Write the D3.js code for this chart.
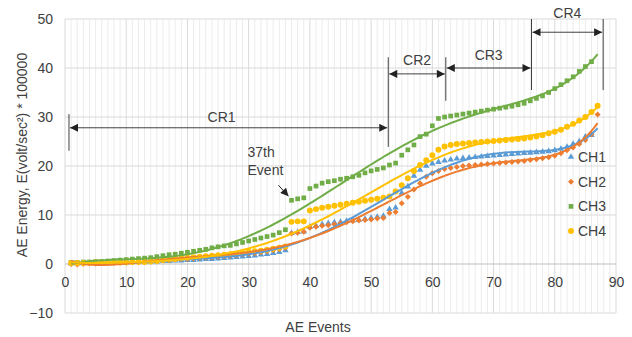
<!DOCTYPE html>
<html>
<head>
<meta charset="utf-8">
<script src="https://cdn.jsdelivr.net/npm/d3@7"></script>
<style>
  body { margin: 0; background: #fff; }
  svg { font-family: "Liberation Sans", Arial, sans-serif; }
</style>
</head>
<body>
<svg id="chart" width="632" height="337"></svg>
<script>
// AE energy per event, one value per event (event 1 onward)
const ch1 = [0.1,0.1,0.1,0.2,0.2,0.2,0.3,0.3,0.3,0.3, 0.4,0.4,0.4,0.5,0.5,0.6,0.6,0.7,0.7,0.8,
  0.8,0.9,1.0,1.0,1.1,1.2,1.3,1.4,1.5,1.6, 1.7,1.9,2.0,2.2,2.4,2.8,6.3,6.5,6.6,7.6,
  7.8,8.1,8.3,8.5,8.6,8.8,8.9,9.0,9.2,9.4, 9.6,9.8,11.2,11.5,14.5,15.8,18.0,19.2,20.0,20.5,
  20.8,21.1,21.3,21.5,21.6,21.7,21.8,21.9,22.0,22.1, 22.2,22.3,22.4,22.5,22.6,22.7,22.8,22.9,23.0,23.2,
  23.5,23.9,24.5,25.0,26.0,26.3];
const ch2 = [0.0,-0.1,0.0,0.1,0.1,0.2,0.2,0.3,0.3,0.4, 0.4,0.5,0.5,0.6,0.7,0.7,0.8,0.9,1.0,1.0,
  1.1,1.2,1.3,1.4,1.5,1.6,1.7,1.8,2.0,2.1, 2.2,2.4,2.6,2.8,3.0,3.3,6.2,6.4,6.6,7.4,
  7.6,7.8,7.9,8.1,8.3,8.5,8.7,8.9,9.0,9.1, 9.3,9.4,10.4,10.6,12.4,13.7,15.2,16.5,17.8,18.5,
  19.0,19.4,19.6,19.8,20.0,20.1,20.2,20.3,20.4,20.5, 20.6,20.7,20.8,20.9,21.0,21.2,21.4,21.6,21.8,22.1,
  22.6,23.2,23.8,24.5,25.3,26.5,30.5];
const ch3 = [0.3,0.3,0.4,0.4,0.5,0.5,0.6,0.7,0.8,0.9, 1.0,1.1,1.2,1.3,1.5,1.7,1.9,2.0,2.2,2.4,
  2.6,2.8,3.0,3.3,3.5,3.7,3.8,4.1,4.4,4.7, 5.0,5.3,5.6,5.9,6.4,7.0,13.0,13.3,13.5,15.4,
  15.9,16.5,16.8,17.0,17.3,17.5,17.8,18.1,18.6,19.0, 19.3,19.6,20.2,20.6,22.2,23.3,24.3,26.0,26.5,28.2,
  29.7,30.0,30.2,30.4,30.6,30.8,31.0,31.2,31.4,31.6, 31.8,32.0,32.2,32.5,32.8,33.3,33.8,34.3,35.0,35.8,
  36.6,37.4,38.2,39.3,40.3,41.3];
const ch4 = [0.2,0.2,0.2,0.2,0.3,0.3,0.3,0.3,0.3,0.3, 0.4,0.4,0.4,0.5,0.6,0.8,0.9,1.0,1.2,1.3,
  1.4,1.5,1.6,1.7,1.8,1.9,2.0,2.1,2.3,2.5, 2.6,2.7,2.9,3.1,3.3,3.6,8.6,8.7,8.7,10.9,
  11.2,11.5,11.7,11.9,12.1,12.3,12.5,12.7,12.9,13.1, 13.3,13.5,13.8,14.8,16.1,17.5,19.0,20.2,21.2,22.2,
  23.3,24.0,24.3,24.5,24.6,24.7,24.8,24.9,25.0,25.1, 25.2,25.3,25.4,25.5,25.6,25.8,26.0,26.3,26.7,27.0,
  27.4,28.0,28.6,29.3,30.0,31.0,32.3];

const seriesNames = ["CH1", "CH2", "CH3", "CH4"];
const seriesValues = [ch1, ch2, ch3, ch4];
const seriesColors = ["#5B9BD5", "#ED7D31", "#70AD47", "#FFC000"];

const xTicks = [0, 10, 20, 30, 40, 50, 60, 70, 80, 90];
const yTicks = [-10, 0, 10, 20, 30, 40, 50];

// crack regions, bounds in event numbers
const crBounds = [0.65, 52.8, 62.2, 76.2, 87.9];
const crLabels = ["CR1", "CR2", "CR3", "CR4"];
const markedEvent = 37;
const trendOrder = 6;

const svg = d3.select("#chart");
const textColor = "#404040";

const x = d3.scaleLinear().domain([0, 90]).range([65, 616]);
const y = d3.scaleLinear().domain([-10, 50]).range([313, 19]);

// grid
const grid = svg.append("g");
grid.selectAll(".minor").data(d3.range(1, 90).filter(d => d % 10 !== 0)).enter()
  .append("line")
  .attr("x1", d => x(d)).attr("x2", d => x(d))
  .attr("y1", y(50)).attr("y2", y(-10))
  .attr("stroke", "#ececec").attr("stroke-width", 1);
grid.selectAll(".vmajor").data(xTicks).enter()
  .append("line")
  .attr("x1", d => x(d)).attr("x2", d => x(d))
  .attr("y1", y(50)).attr("y2", y(-10))
  .attr("stroke", "#d9d9d9").attr("stroke-width", 1);
grid.selectAll(".hmajor").data(yTicks).enter()
  .append("line")
  .attr("x1", x(0)).attr("x2", x(90))
  .attr("y1", d => y(d)).attr("y2", d => y(d))
  .attr("stroke", d => d === 0 ? "#bfbfbf" : "#d9d9d9").attr("stroke-width", 1);

// axes (labels only)
const xAxis = svg.append("g")
  .attr("transform", `translate(0,${y(0)})`)
  .call(d3.axisBottom(x).tickValues(xTicks).tickSize(0).tickPadding(13));
const yAxis = svg.append("g")
  .attr("transform", `translate(${x(0)},0)`)
  .call(d3.axisLeft(y).tickValues(yTicks).tickSize(0).tickPadding(12));
[xAxis, yAxis].forEach(a => {
  a.select(".domain").remove();
  a.selectAll("text").attr("font-size", 14).attr("fill", textColor)
    .attr("font-family", "Liberation Sans, Arial, sans-serif");
});

svg.append("text")
  .attr("x", 318).attr("y", 332)
  .attr("text-anchor", "middle")
  .attr("font-size", 14).attr("fill", textColor)
  .text("AE Events");

svg.append("text")
  .attr("transform", "translate(27,155) rotate(-90)")
  .attr("text-anchor", "middle")
  .attr("font-size", 14).attr("fill", textColor)
  .text("AE Energy, E(volt/sec²) * 100000");

// markers
const shapes = [
  d3.symbol().type(d3.symbolTriangle).size(18),
  d3.symbol().type(d3.symbolSquare).size(18),
  d3.symbol().type(d3.symbolSquare).size(22),
  d3.symbol().type(d3.symbolCircle).size(28)
];
const rotations = [0, 45, 0, 0];

seriesValues.forEach((vals, i) => {
  svg.append("g").selectAll("path").data(vals).enter()
    .append("path")
    .attr("d", shapes[i])
    .attr("transform", (d, j) => `translate(${x(j + 1)},${y(d)}) rotate(${rotations[i]})`)
    .attr("fill", seriesColors[i]);
});

// polynomial trendline, least squares on a centred variable
function polyFit(vals, order) {
  const n = order + 1;
  const norm = xv => (xv - 44) / 43;
  const A = d3.range(n).map(() => new Array(n + 1).fill(0));
  vals.forEach((v, j) => {
    const t = norm(j + 1);
    const p = d3.range(n).map(k => Math.pow(t, k));
    for (let r = 0; r < n; r++) {
      for (let c = 0; c < n; c++) A[r][c] += p[r] * p[c];
      A[r][n] += p[r] * v;
    }
  });
  for (let c = 0; c < n; c++) {
    let piv = c;
    for (let r = c + 1; r < n; r++) if (Math.abs(A[r][c]) > Math.abs(A[piv][c])) piv = r;
    [A[c], A[piv]] = [A[piv], A[c]];
    for (let r = 0; r < n; r++) {
      if (r === c) continue;
      const f = A[r][c] / A[c][c];
      for (let k = c; k <= n; k++) A[r][k] -= f * A[c][k];
    }
  }
  const coef = d3.range(n).map(k => A[k][n] / A[k][k]);
  return xv => {
    const t = norm(xv);
    return coef.reduce((s, c, k) => s + c * Math.pow(t, k), 0);
  };
}

const line = d3.line().x(d => x(d[0])).y(d => y(d[1]));
seriesValues.forEach((vals, i) => {
  const f = polyFit(vals, trendOrder);
  const pts = d3.range(1, 87.01, 0.5).map(xv => [xv, f(xv)]);
  svg.append("path")
    .datum(pts)
    .attr("d", line)
    .attr("fill", "none")
    .attr("stroke", seriesColors[i])
    .attr("stroke-width", 2);
});

// arrow heads
const defs = svg.append("defs");
["arrowEnd", "arrowStart"].forEach((id, k) => {
  defs.append("marker")
    .attr("id", id)
    .attr("viewBox", "0 0 10 10")
    .attr("refX", k === 0 ? 10 : 0).attr("refY", 5)
    .attr("markerWidth", 10).attr("markerHeight", 8)
    .attr("markerUnits", "userSpaceOnUse")
    .attr("orient", "auto")
    .append("path")
    .attr("d", k === 0 ? "M0,0 L10,5 L0,10 Z" : "M10,0 L0,5 L10,10 Z")
    .attr("fill", "#222");
});

// crack region annotations
const ann = svg.append("g").attr("stroke", "#404040").attr("stroke-width", 1);
const arrowY = [27.8, 38.8, 40.0, 47.3];
const vTop = [30.6, 42.2, 42.2, 50, 50];
const vBottom = [23.1, 23.9, 33.3, 35.5, 35.5];
crBounds.forEach((b, i) => {
  ann.append("line")
    .attr("x1", x(b)).attr("x2", x(b))
    .attr("y1", y(vTop[i])).attr("y2", y(vBottom[i]));
});
const labelY = [30.0, 41.6, 42.7, 51.2];
crLabels.forEach((lab, i) => {
  ann.append("line")
    .attr("x1", x(crBounds[i]) + 1).attr("x2", x(crBounds[i + 1]) - 1)
    .attr("y1", y(arrowY[i])).attr("y2", y(arrowY[i]))
    .attr("marker-start", "url(#arrowStart)")
    .attr("marker-end", "url(#arrowEnd)");
  svg.append("text")
    .attr("x", x((crBounds[i] + crBounds[i + 1]) / 2) + (i === 0 ? -7 : 0))
    .attr("y", y(labelY[i]))
    .attr("dy", "0.35em")
    .attr("text-anchor", "middle")
    .attr("font-size", 14).attr("fill", textColor)
    .text(lab);
});

// 37th event callout
const px = x(markedEvent), py = y(ch3[markedEvent - 1]);
svg.append("line")
  .attr("x1", px - 13).attr("y1", py - 15)
  .attr("x2", px - 3).attr("y2", py - 4)
  .attr("stroke", "#222").attr("stroke-width", 1)
  .attr("marker-end", "url(#arrowEnd)");
const callout = svg.append("text")
  .attr("x", px - 44).attr("y", py - 43)
  .attr("font-size", 14).attr("fill", textColor);
callout.append("tspan").attr("x", px - 44).text("37th");
callout.append("tspan").attr("x", px - 44).attr("dy", 18).text("Event");

// legend
const legend = svg.append("g").attr("transform", "translate(571,157)");
seriesNames.forEach((name, i) => {
  const g = legend.append("g").attr("transform", `translate(0,${i * 24.7})`);
  g.append("path").attr("d", shapes[i]).attr("transform", `rotate(${rotations[i]})`)
    .attr("fill", seriesColors[i]);
  g.append("text").attr("x", 7).attr("dy", "0.35em")
    .attr("font-size", 14).attr("fill", textColor).text(name);
});
</script>
</body>
</html>
